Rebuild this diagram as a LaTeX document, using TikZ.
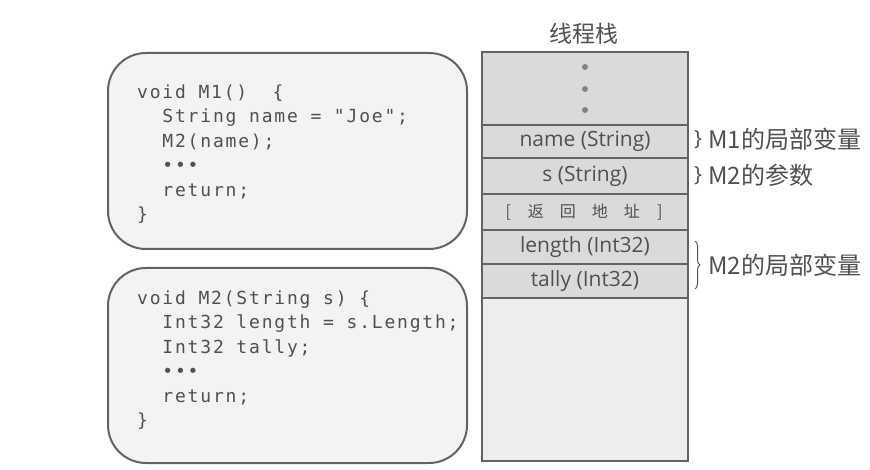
\documentclass[tikz,border=0pt]{standalone}
\usepackage{fontspec}
\setmainfont{Open Sans}
\newfontfamily\codefont[LetterSpace=10]{DejaVu Sans Mono}
\newfontfamily\cjk{Noto Sans CJK SC}
\usetikzlibrary{decorations.pathreplacing}
\definecolor{txt}{HTML}{505050}
\definecolor{edge}{HTML}{636363}
\definecolor{cell}{HTML}{DADADA}
\definecolor{codebg}{HTML}{F3F3F3}
\definecolor{emptybg}{HTML}{EDEDED}
\begin{document}
\begin{tikzpicture}[x=1pt,y=-1pt,
  codebox/.style={draw=edge,line width=2pt,fill=codebg,rounded corners=38pt},
  codetext/.style={anchor=west,inner sep=0pt,align=left,text=txt,
    font=\codefont\fontsize{18}{24.5}\selectfont},
  cellbox/.style={draw=edge,line width=2.5pt,fill=cell},
  celltext/.style={text=txt,font=\fontsize{21}{23}\selectfont,inner sep=0pt},
  lbl/.style={anchor=west,text=txt,inner sep=0pt,font=\cjk\fontsize{24}{26}\selectfont},
  dotmark/.style={circle,fill=edge!80,inner sep=0pt,minimum size=6pt}
]
\useasboundingbox (0,0) rectangle (870,470);
\fill[white] (0,0) rectangle (870,470);

% code boxes
\draw[codebox] (108,53) rectangle (467,249);
\node[codetext] (m1code) at (137,154) {void M1()\ \ \{\\
\ \ String name = "Joe";\\
\ \ M2(name);\\
\ \ •••\\
\ \ return;\\
\}};

\draw[codebox] (108,268) rectangle (467,463);
\node[codetext] (m2code) at (137,360) {void M2(String s) \{\\
\ \ Int32 length = s.Length;\\
\ \ Int32 tally;\\
\ \ •••\\
\ \ return;\\
\}};

% stack
\node[text=txt,font=\cjk\fontsize{23}{25}\selectfont] (title) at (584,34) {线程栈};
\draw[cellbox,fill=emptybg] (482,298) rectangle (688,461);
\draw[cellbox] (482,52) rectangle (688,125);
\draw[cellbox] (482,125) rectangle (688,158);
\draw[cellbox] (482,158) rectangle (688,194);
\draw[cellbox] (482,194) rectangle (688,230);
\draw[cellbox] (482,230) rectangle (688,264);
\draw[cellbox] (482,264) rectangle (688,298);

\node[dotmark] (d1) at (585,67) {};
\node[dotmark] (d2) at (585,89) {};
\node[dotmark] (d3) at (585,110) {};

\node[celltext] (name) at (585,141.5) {name (String)};
\node[celltext] (s) at (585,176) {s (String)};
\node[celltext,font=\cjk\fontsize{16}{18}\selectfont] (ret) at (584,212) {[\hspace{17pt}返\hspace{16pt}回\hspace{16pt}地\hspace{16pt}址\hspace{17pt}]};
\node[celltext] (len) at (585,247) {length (Int32)};
\node[celltext] (tally) at (585,281) {tally (Int32)};

% braces and labels
\node[text=txt,inner sep=0pt,font=\fontsize{21}{23}\selectfont] (b1) at (698,140) {\}};
\node[text=txt,inner sep=0pt,font=\fontsize{21}{23}\selectfont] (b2) at (698,176) {\}};
\coordinate (bt) at (695,241);
\coordinate (bb) at (695,289);
\draw[txt,line width=1pt,decorate,decoration={brace,amplitude=5pt}] (bt) -- (bb);

\node[lbl] (l1) at (708,139) {M1的局部变量};
\node[lbl] (l2) at (708,175) {M2的参数};
\node[lbl] (l3) at (708,265) {M2的局部变量};
\end{tikzpicture}
\end{document}
